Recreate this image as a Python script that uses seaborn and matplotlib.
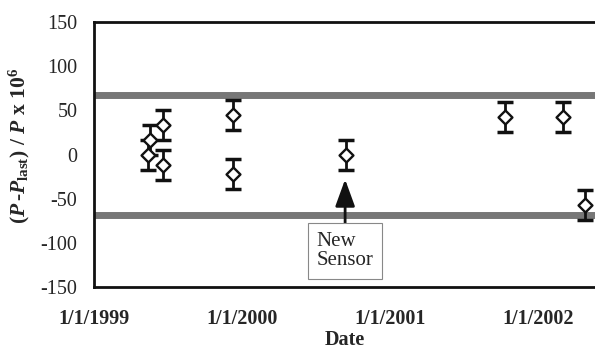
import matplotlib
matplotlib.use("Agg")
import matplotlib.pyplot as plt
import seaborn as sns
import pandas as pd

dates = ["1999-05-14", "1999-05-19", "1999-06-20", "1999-06-20", "1999-12-10",
         "1999-12-10", "2000-09-15", "2001-10-13", "2002-03-03", "2002-04-28"]
values = [0, 17, 33, -12, 45, -22, 0, 43, 43, -57]
errors = [17, 17, 17, 17, 17, 17, 17, 17, 17, 17]
limit = 68
tick_dates = ["1999-01-01", "2000-01-01", "2001-01-01", "2002-01-01"]
tick_labels = ["1/1/1999", "1/1/2000", "1/1/2001", "1/1/2002"]
y_ticks = [-150, -100, -50, 0, 50, 100, 150]

df = pd.DataFrame({"date": pd.to_datetime(dates), "value": values, "err": errors})

sns.set_style("white")
plt.rcParams["font.family"] = ["Liberation Serif", "DejaVu Serif"]
plt.rcParams["mathtext.fontset"] = "custom"
plt.rcParams["mathtext.rm"] = "Liberation Serif:bold"
plt.rcParams["mathtext.it"] = "Liberation Serif:italic:bold"
plt.rcParams["mathtext.bf"] = "Liberation Serif:bold"

fig = plt.figure(figsize=(5.95, 3.51), dpi=100)
ax = fig.add_axes([0.158, 0.182, 0.842, 0.755])

ax.axhline(limit, color="#777777", lw=5, zorder=1)
ax.axhline(-limit, color="#777777", lw=5, zorder=1)

ax.errorbar(df["date"], df["value"], yerr=df["err"], fmt="none", ecolor="#111111",
            elinewidth=2, capsize=6, capthick=2.5, zorder=2)
sns.scatterplot(data=df, x="date", y="value", marker="D", s=50, facecolor="white",
                edgecolor="#111111", linewidth=1.7, ax=ax, zorder=3)

ax.set_xlim(pd.Timestamp("1999-01-01"), pd.Timestamp("2002-05-22"))
ax.set_ylim(-150, 150)
ax.set_yticks(y_ticks)
ax.set_yticklabels([str(v) for v in y_ticks], fontsize=14.5)
ax.set_xticks(pd.to_datetime(tick_dates))
ax.set_xticklabels(tick_labels, fontsize=14.5, fontweight="bold")
ax.tick_params(axis="x", direction="out", length=5, width=0.8, color="#999999", pad=11)
ax.tick_params(axis="y", direction="out", length=4, width=0.8, color="#999999", pad=8)

for s in ["left", "top", "bottom"]:
    ax.spines[s].set_color("#111111")
    ax.spines[s].set_linewidth(2)
ax.spines["right"].set_visible(False)

ax.set_xlabel("Date", fontsize=14.5, fontweight="bold")
ax.xaxis.set_label_coords(0.5, -0.163)
ax.set_ylabel(r"$(\mathit{P}\,\text{-}\mathit{P}_{\mathrm{last}})\ /\ \mathit{P}\ \mathrm{x\ 10^6}$",
              fontsize=15.5)
ax.yaxis.set_label_coords(-0.124, 0.532)

ax.annotate("New\nSensor", xy=(pd.Timestamp("2000-09-12"), -28),
            xytext=(pd.Timestamp("2000-09-12"), -109),
            fontsize=15, ha="center", va="center", multialignment="left",
            linespacing=1.05,
            bbox=dict(boxstyle="square,pad=0.4", fc="white", ec="#888888", lw=0.8),
            arrowprops=dict(arrowstyle="-|>,head_width=0.4,head_length=1.1",
                            color="#111111", lw=2, shrinkA=0, shrinkB=0))

fig.savefig("out.png", dpi=100)
